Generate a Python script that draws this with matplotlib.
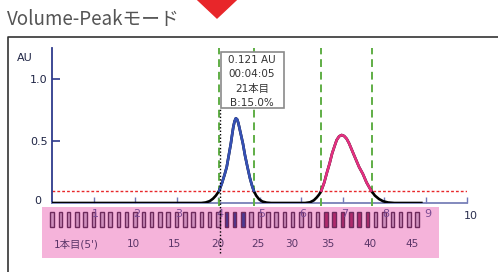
import numpy as np
import matplotlib
matplotlib.use("Agg")
import matplotlib.pyplot as plt
from matplotlib.patches import Polygon, Rectangle
from matplotlib.lines import Line2D

plt.rcParams['font.family'] = ['DejaVu Sans', 'Noto Sans CJK JP']

# --- data (x in minutes, y in AU) ---
trace_x = [0.0, 3.60, 3.70, 3.80, 3.88, 3.95, 4.03, 4.10, 4.16, 4.21, 4.26, 4.31,
           4.34, 4.37, 4.40, 4.43, 4.46, 4.49, 4.52, 4.56, 4.60, 4.65, 4.71, 4.77,
           4.82, 4.86, 4.92, 4.99, 5.07, 5.17, 5.28, 6.10, 6.22, 6.31, 6.38, 6.44,
           6.49, 6.56, 6.62, 6.69, 6.75, 6.81, 6.86, 6.92, 6.98, 7.04, 7.10, 7.16,
           7.21, 7.26, 7.33, 7.40, 7.49, 7.58, 7.69, 7.78, 7.88, 7.98, 8.10, 8.25, 8.90]
trace_y = [0.0, 0.0, 0.004, 0.015, 0.035, 0.06, 0.10, 0.165, 0.23, 0.29, 0.385, 0.48,
           0.55, 0.615, 0.66, 0.683, 0.675, 0.645, 0.60, 0.54, 0.48, 0.385, 0.29, 0.20,
           0.14, 0.10, 0.06, 0.03, 0.012, 0.003, 0.0, 0.0, 0.006, 0.022, 0.045, 0.07,
           0.10, 0.165, 0.24, 0.32, 0.40, 0.46, 0.508, 0.538, 0.548, 0.54, 0.518, 0.48,
           0.44, 0.40, 0.345, 0.29, 0.235, 0.165, 0.10, 0.06, 0.032, 0.014, 0.004, 0.0, 0.0]

peak1_range = (4.03, 4.86)
peak2_range = (6.49, 7.69)
threshold = 0.1
cut_points = [4.02, 4.87, 6.48, 7.71]
cursor_x = 4.04

x_ticks = [1, 2, 3, 4, 5, 6, 7, 8, 9, 10]
x_tick_labels = ['1', '2', '3', '4', '5', '6', '7', '8', '9', '10']
y_ticks = [0.5, 1.0]
y_tick_labels = ['0.5', '1.0']

tube_numbers = list(range(1, 46))
tube_minutes = 0.2
blue_tubes = [22, 23, 24]
pink_tubes = [34, 35, 36, 37, 38, 39]
tube_label_text = ["1本目(5')", '10', '15', '20', '25', '30', '35', '40', '45']
tube_label_x = [0.58, 1.95, 2.96, 4.0, 4.96, 5.78, 6.65, 7.66, 8.67]

cursor_info = ['0.121 AU', '00:04:05', '21本目', 'B:15.0%']

# --- figure in pixel terms ---
W, H = 498, 272
def fx(px):
    return px / W
def fy(py):
    return 1 - py / H

fig = plt.figure(figsize=(W / 100, H / 100), dpi=100)
fig.patch.set_facecolor('white')

# outer frame + title + red marker
fig.add_artist(Line2D([fx(8), fx(8), 1.0], [0, fy(37), fy(37)],
                      transform=fig.transFigure, color='#333333', lw=1.2))
fig.text(fx(7), fy(20), 'Volume-Peakモード', fontsize=13.5, color='#555555',
         va='center', ha='left', family=['Noto Sans CJK JP', 'DejaVu Sans'])
fig.add_artist(Polygon([(fx(195), 1.01), (fx(239), 1.01), (fx(217), fy(18))],
                       closed=True, transform=fig.transFigure, color='#e8262a'))

ax = fig.add_axes([fx(52), fy(203), 415 / W, 155 / H])
ax.set_xlim(0, 10)
ax.set_ylim(0, 1.25)
ax.set_facecolor('none')
for s in ['top', 'right']:
    ax.spines[s].set_visible(False)
ax.spines['left'].set_color('#2e3a8c')
ax.spines['left'].set_linewidth(1.3)
ax.spines['bottom'].set_color('#7880b8')
ax.spines['bottom'].set_linewidth(1.3)

ax.set_xticks(x_ticks)
ax.tick_params(axis='x', direction='in', length=4, width=1, color='#7078b8',
               labelbottom=False)
ax.set_yticks(y_ticks, labels=y_tick_labels)
ax.tick_params(axis='y', direction='in', length=6, width=1.2, color='#2e3a8c',
               pad=3, labelsize=8, labelcolor='#1f2545')
ax.text(-0.34, 0.015, '0', fontsize=8, color='#1f2545', ha='center', va='center')
ax.text(-0.65, 1.17, 'AU', fontsize=8, color='#1f2545', ha='center', va='center')

# fraction collector band
band = Rectangle((-0.24, -0.444), 9.565, 0.412, facecolor='#f5b3da',
                 edgecolor='none', clip_on=False, zorder=0.5)
ax.add_patch(band)

tube_x = [(n - 1) * tube_minutes for n in tube_numbers]
tube_fc = []
for n in tube_numbers:
    if n in blue_tubes:
        tube_fc.append('#4b3a92')
    elif n in pink_tubes:
        tube_fc.append('#b02a6c')
    else:
        tube_fc.append('#cf8fbd')
bars = ax.bar(tube_x, 0.125, width=0.085, bottom=-0.197, color=tube_fc,
              edgecolor='#6e2a5c', linewidth=1.0, zorder=1)
for b in bars:
    b.set_clip_on(False)

for t, lab in zip(x_ticks, x_tick_labels):
    if t == 10:
        ax.text(10.1, -0.105, lab, fontsize=8, color='#2c3050',
                ha='center', va='center')
    else:
        ax.text(t + 0.05, -0.09, lab, fontsize=8, color='#7b4b93', ha='center',
                va='center', zorder=2)

for lab, x in zip(tube_label_text, tube_label_x):
    ax.text(x, -0.333, lab, fontsize=7.5, color='#5a3568', ha='center', va='center')

# threshold and cut lines
ax.axhline(threshold, color='#e8282a', ls=(0, (2, 1.5)), lw=1, zorder=2)
for c in cut_points:
    ax.plot([c, c], [-0.026, 1.25], color='#5fae45', ls=(0, (4, 2.5)), lw=1.4,
            clip_on=False, zorder=3)

# chromatogram
tx = np.array(trace_x)
ty = np.array(trace_y)
ax.plot(tx, ty, color='black', lw=1.9, zorder=3.5)
m1 = (tx >= peak1_range[0]) & (tx <= peak1_range[1])
m2 = (tx >= peak2_range[0]) & (tx <= peak2_range[1])
ax.plot(tx[m1], ty[m1], color='#3550b5', lw=1.9, zorder=3.6)
ax.plot(tx[m2], ty[m2], color='#e33080', lw=1.9, zorder=3.6)

# cursor box
ax.add_patch(Rectangle((4.07, 0.766), 1.52, 0.452, facecolor='white',
                       edgecolor='#8a8a8a', lw=1.2, zorder=4, clip_on=False))
for i, line in enumerate(cursor_info):
    ax.text(4.82, 1.153 - i * 0.115, line, fontsize=7.5, color='#333333',
            ha='center', va='center', zorder=5)
ax.plot([cursor_x, cursor_x], [-0.40, 0.766], color='black', ls=(0, (1, 1.5)),
        lw=1, clip_on=False, zorder=5)

fig.savefig('out.png', dpi=100)
